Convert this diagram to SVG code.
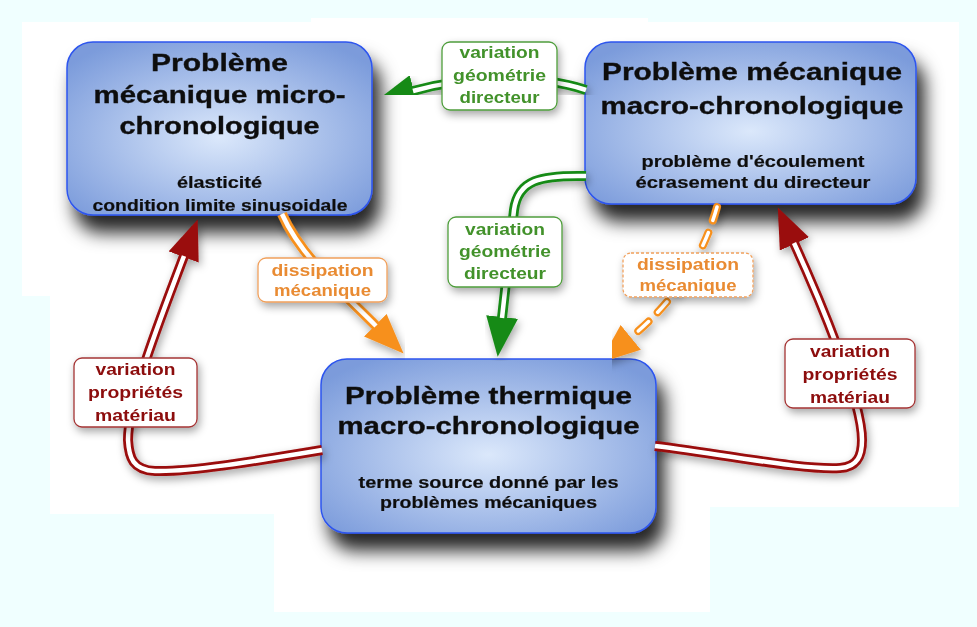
<svg xmlns="http://www.w3.org/2000/svg" width="977" height="627" viewBox="0 0 977 627">
<defs>
<style>
.title{font-family:"Liberation Sans",Arial,sans-serif;font-weight:bold;font-size:24px;fill:#111;stroke:#111;stroke-width:0.35;text-anchor:middle}
.sub{font-family:"Liberation Sans",Arial,sans-serif;font-weight:bold;font-size:16.5px;fill:#111;stroke:#111;stroke-width:0.2;text-anchor:middle}
.lbl{font-family:"Liberation Sans",Arial,sans-serif;font-weight:bold;font-size:17px;text-anchor:middle}
.node{fill:url(#nodeFill);stroke:#2d55ee;stroke-width:1.5}
.lg{fill:#fff;stroke:#4f9d3c;stroke-width:1.3}
.lo{fill:#fff;stroke:#f0a05c;stroke-width:1.3}
.lr{fill:#fff;stroke:#a43434;stroke-width:1.3}
.tg{fill:#43922c}
.to{fill:#e98b33}
.tr{fill:#8c0b0b}
.outer{fill:none;stroke-width:10}
.inner{fill:none;stroke:#fff;stroke-width:4.5}
</style>
<radialGradient id="nodeFill" cx="50%" cy="55%" r="65%">
<stop offset="0" stop-color="#dbe8fb"/>
<stop offset="1" stop-color="#7b9bdb"/>
</radialGradient>
<filter id="nodeShadow" x="-20%" y="-20%" width="150%" height="170%">
<feDropShadow dx="8" dy="17" stdDeviation="9" flood-color="#000" flood-opacity="0.85"/>
</filter>
<filter id="softShadow" x="-20%" y="-20%" width="150%" height="150%">
<feDropShadow dx="2" dy="4" stdDeviation="4" flood-color="#000" flood-opacity="0.35"/>
</filter>
<marker id="hG" markerUnits="userSpaceOnUse" markerWidth="42" markerHeight="32" viewBox="0 0 42 32" refX="1" refY="16" orient="auto"><path d="M0,0 L40,16 L0,32 Z" fill="#168a16"/></marker>
<marker id="hO" markerUnits="userSpaceOnUse" markerWidth="42" markerHeight="32" viewBox="0 0 42 32" refX="1" refY="16" orient="auto"><path d="M0,0 L40,16 L0,32 Z" fill="#f7901e"/></marker>
<marker id="hR" markerUnits="userSpaceOnUse" markerWidth="42" markerHeight="32" viewBox="0 0 42 32" refX="1" refY="16" orient="auto"><path d="M0,0 L40,16 L0,32 Z" fill="#9a0a0a"/></marker>
</defs>

<rect width="977" height="627" fill="#f0ffff"/>
<path d="M22,22 H959 V507 H710 V612 H274 V514 H50 V296 H22 Z" fill="#fff"/>
<rect x="311" y="18" width="337" height="6" fill="#fff"/>

<g id="node-micro" filter="url(#nodeShadow)">
<rect class="node" x="67" y="42" width="305" height="173" rx="26"/>
<text class="title" x="219.5" y="71" textLength="137" lengthAdjust="spacingAndGlyphs">Problème</text>
<text class="title" x="219.5" y="103" textLength="252" lengthAdjust="spacingAndGlyphs">mécanique micro-</text>
<text class="title" x="219.5" y="134" textLength="200" lengthAdjust="spacingAndGlyphs">chronologique</text>
<text class="sub" x="219.5" y="188" textLength="85" lengthAdjust="spacingAndGlyphs">élasticité</text>
<text class="sub" x="220" y="211" textLength="255" lengthAdjust="spacingAndGlyphs">condition limite sinusoidale</text>
</g>

<g id="node-macro-meca" filter="url(#nodeShadow)">
<rect class="node" x="585" y="42" width="331" height="162" rx="26"/>
<text class="title" x="752" y="80" textLength="300" lengthAdjust="spacingAndGlyphs">Problème mécanique</text>
<text class="title" x="752" y="114" textLength="303" lengthAdjust="spacingAndGlyphs">macro-chronologique</text>
<text class="sub" x="753" y="167" textLength="223" lengthAdjust="spacingAndGlyphs">problème d'écoulement</text>
<text class="sub" x="753" y="188" textLength="235" lengthAdjust="spacingAndGlyphs">écrasement du directeur</text>
</g>

<g id="node-thermique" filter="url(#nodeShadow)">
<rect class="node" x="321" y="359" width="335" height="174" rx="26"/>
<text class="title" x="488.5" y="404" textLength="287" lengthAdjust="spacingAndGlyphs">Problème thermique</text>
<text class="title" x="488.5" y="434" textLength="302" lengthAdjust="spacingAndGlyphs">macro-chronologique</text>
<text class="sub" x="488.5" y="488" textLength="260" lengthAdjust="spacingAndGlyphs">terme source donné par les</text>
<text class="sub" x="488.5" y="508" textLength="217" lengthAdjust="spacingAndGlyphs">problèmes mécaniques</text>
</g>

<g id="connectors">
<g id="edge-geom-top" filter="url(#softShadow)">
<path class="outer" stroke="#168a16" d="M586,90 C540,75 470,75 413,91" marker-end="url(#hG)"/>
<path class="inner" d="M586,90 C540,75 470,75 413,91"/>
</g>
<g id="edge-geom-mid" filter="url(#softShadow)">
<path class="outer" stroke="#168a16" d="M586,176 C540,175 518,180 514,210 L502,318" marker-end="url(#hG)"/>
<path class="inner" d="M586,176 C540,175 518,180 514,210 L502,318"/>
</g>
<g id="edge-diss-solid" filter="url(#softShadow)">
<path class="outer" stroke="#f7901e" d="M282,214 C300,255 340,290 376,326" marker-end="url(#hO)"/>
<path class="inner" d="M282,214 C300,255 340,290 376,326"/>
</g>
<g id="edge-diss-dashed" filter="url(#softShadow)">
<path class="outer" stroke="#f7901e" style="stroke-width:8" stroke-linecap="round" stroke-dasharray="14 13" d="M717,207 Q695,285 630,338" marker-end="url(#hO)"/>
<path class="inner" style="stroke-width:3.5" stroke-linecap="round" stroke-dasharray="14 13" d="M717,207 Q695,285 630,338"/>
</g>
<g id="edge-mat-left" filter="url(#softShadow)">
<path class="outer" stroke="#9a0a0a" d="M322,450 C250,462 190,472 155,471 C133,470 129,458 128,440 C128,400 160,320 184,256" marker-end="url(#hR)"/>
<path class="inner" d="M322,450 C250,462 190,472 155,471 C133,470 129,458 128,440 C128,400 160,320 184,256"/>
</g>
<g id="edge-mat-right" filter="url(#softShadow)">
<path class="outer" stroke="#9a0a0a" d="M655,446 C730,455 800,470 840,468 C858,467 862,455 862,440 C862,400 820,300 794,243" marker-end="url(#hR)"/>
<path class="inner" d="M655,446 C730,455 800,470 840,468 C858,467 862,455 862,440 C862,400 820,300 794,243"/>
</g>
</g>

<g id="label-geom-top" filter="url(#softShadow)">
<rect class="lg" x="442" y="42" width="115" height="68" rx="8"/>
<text class="lbl tg" x="499.5" y="58" textLength="80" lengthAdjust="spacingAndGlyphs">variation</text>
<text class="lbl tg" x="499.5" y="81" textLength="93" lengthAdjust="spacingAndGlyphs">géométrie</text>
<text class="lbl tg" x="499.5" y="103" textLength="80" lengthAdjust="spacingAndGlyphs">directeur</text>
</g>
<g id="label-geom-mid" filter="url(#softShadow)">
<rect class="lg" x="448" y="217" width="114" height="70" rx="8"/>
<text class="lbl tg" x="505" y="235" textLength="80" lengthAdjust="spacingAndGlyphs">variation</text>
<text class="lbl tg" x="505" y="257" textLength="92" lengthAdjust="spacingAndGlyphs">géométrie</text>
<text class="lbl tg" x="505" y="279" textLength="82" lengthAdjust="spacingAndGlyphs">directeur</text>
</g>
<g id="label-diss-solid" filter="url(#softShadow)">
<rect class="lo" x="258" y="258" width="129" height="44" rx="8"/>
<text class="lbl to" x="322.5" y="276" textLength="102" lengthAdjust="spacingAndGlyphs">dissipation</text>
<text class="lbl to" x="322.5" y="296" textLength="97" lengthAdjust="spacingAndGlyphs">mécanique</text>
</g>
<g id="label-diss-dashed" filter="url(#softShadow)">
<rect class="lo" x="623" y="253" width="130" height="44" rx="8" stroke-dasharray="3 2"/>
<text class="lbl to" x="688" y="270" textLength="102" lengthAdjust="spacingAndGlyphs">dissipation</text>
<text class="lbl to" x="688" y="291" textLength="97" lengthAdjust="spacingAndGlyphs">mécanique</text>
</g>
<g id="label-mat-left" filter="url(#softShadow)">
<rect class="lr" x="74" y="358" width="123" height="69" rx="8"/>
<text class="lbl tr" x="135.5" y="375" textLength="80" lengthAdjust="spacingAndGlyphs">variation</text>
<text class="lbl tr" x="135.5" y="398" textLength="95" lengthAdjust="spacingAndGlyphs">propriétés</text>
<text class="lbl tr" x="135.5" y="421" textLength="81" lengthAdjust="spacingAndGlyphs">matériau</text>
</g>
<g id="label-mat-right" filter="url(#softShadow)">
<rect class="lr" x="785" y="339" width="130" height="69" rx="8"/>
<text class="lbl tr" x="850" y="357" textLength="80" lengthAdjust="spacingAndGlyphs">variation</text>
<text class="lbl tr" x="850" y="380" textLength="95" lengthAdjust="spacingAndGlyphs">propriétés</text>
<text class="lbl tr" x="850" y="403" textLength="80" lengthAdjust="spacingAndGlyphs">matériau</text>
</g>
</svg>
